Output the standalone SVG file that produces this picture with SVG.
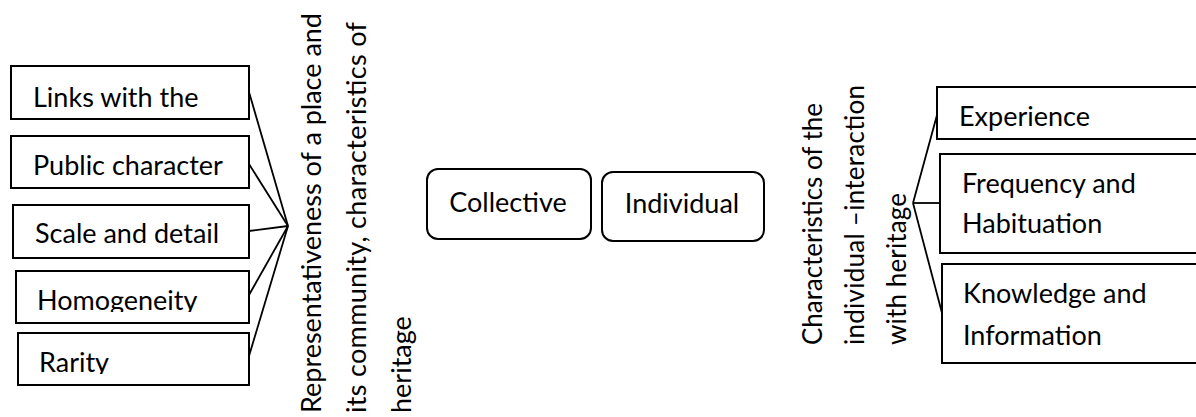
<svg xmlns="http://www.w3.org/2000/svg" width="1196" height="417" viewBox="0 0 1196 417">
<style>
.box{fill:#fff;stroke:#000;stroke-width:2}
.rbox{fill:#fff;stroke:#000;stroke-width:2}
.t{font-family:Lato,"Open Sans",sans-serif;font-size:27px;fill:#000}
.rt{font-family:Lato,"Open Sans",sans-serif;font-size:27px;fill:#000}
.rt2{font-family:Lato,"Open Sans",sans-serif;font-size:26px;fill:#000}
.ln{stroke:#000;stroke-width:1.8;fill:none}
</style>
<defs>
<clipPath id="clipH"><rect x="0" y="260" width="260" height="52"/></clipPath>
<clipPath id="clipR"><rect x="0" y="330" width="260" height="44"/></clipPath>
</defs>
<rect width="1196" height="417" fill="#fff"/>
<g id="connectors">
<line class="ln" x1="249" y1="92" x2="288" y2="226"/>
<line class="ln" x1="249" y1="164" x2="288" y2="226"/>
<line class="ln" x1="249" y1="231" x2="288" y2="226"/>
<line class="ln" x1="249" y1="295" x2="288" y2="226"/>
<line class="ln" x1="249" y1="356" x2="288" y2="226"/>
<line class="ln" x1="937" y1="115" x2="913" y2="203"/>
<line class="ln" x1="939" y1="203" x2="913" y2="203"/>
<line class="ln" x1="942" y1="313" x2="913" y2="203"/>
</g>
<g id="links">
<rect class="box" x="11" y="66" width="238" height="53"/>
<text class="t" x="33" y="107">Links with the</text>
</g>
<g id="public">
<rect class="box" x="11" y="136" width="238" height="52"/>
<text class="t" x="33" y="175">Public character</text>
</g>
<g id="scale">
<rect class="box" x="13" y="205" width="236" height="53"/>
<text class="t" x="35" y="243">Scale and detail</text>
</g>
<g id="homogeneity">
<rect class="box" x="16" y="271" width="233" height="52"/>
<text class="t" x="37" y="310" clip-path="url(#clipH)">Homogeneity</text>
</g>
<g id="rarity">
<rect class="box" x="18" y="333" width="231" height="52"/>
<text class="t" x="39" y="372" clip-path="url(#clipR)">Rarity</text>
</g>
<g id="representativeness">
<text class="rt" transform="translate(321,413) rotate(-90)" textLength="400">Representativeness of a place and</text>
<text class="rt" transform="translate(366,413) rotate(-90)" textLength="391">its community, characteristics of</text>
<text class="rt" transform="translate(411,413) rotate(-90)">heritage</text>
</g>
<g id="collective">
<rect class="rbox" x="427" y="169" width="164" height="70" rx="11"/>
<text class="t" x="508" y="212" text-anchor="middle">Collective</text>
</g>
<g id="individual">
<rect class="rbox" x="602" y="172" width="162" height="69" rx="11"/>
<text class="t" x="682" y="213" text-anchor="middle">Individual</text>
</g>
<g id="characteristics">
<text class="rt2" transform="translate(822,345) rotate(-90)" textLength="242">Characteristics of the</text>
<text class="rt2" transform="translate(864,345) rotate(-90)" textLength="260">individual –interaction</text>
<text class="rt2" transform="translate(906,345) rotate(-90)" textLength="152">with heritage</text>
</g>
<g id="experience">
<rect class="box" x="937" y="87" width="270" height="52"/>
<text class="t" x="959" y="126">Experience</text>
</g>
<g id="frequency">
<rect class="box" x="940" y="154" width="270" height="99"/>
<text class="t" x="962" y="193">Frequency and</text>
<text class="t" x="962" y="233">Habituation</text>
</g>
<g id="knowledge">
<rect class="box" x="942" y="264" width="270" height="99"/>
<text class="t" x="963" y="303">Knowledge and</text>
<text class="t" x="963" y="345">Information</text>
</g>
</svg>
